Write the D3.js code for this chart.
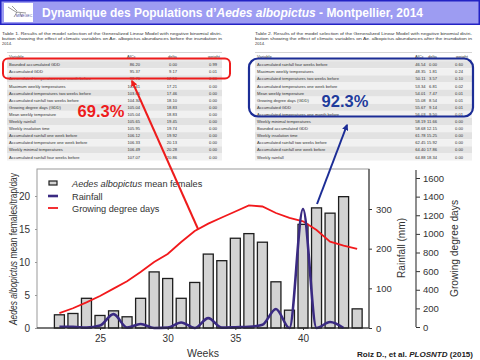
<!DOCTYPE html>
<html>
<head>
<meta charset="utf-8">
<script src="https://cdn.jsdelivr.net/npm/d3@7"></script>
<style>
  html, body { margin: 0; padding: 0; background: #fff; }
  svg { display: block; font-family: "Liberation Sans", Arial, sans-serif; }
</style>
</head>
<body>
<svg id="slide" width="480" height="360"></svg>
<script>
// weekly data
const weeks = [22, 23, 24, 25, 26, 27, 28, 29, 30, 31, 32, 33, 34, 35, 36, 37, 38, 39, 40, 41, 42, 43, 44];
const females = [2.0, 2.2, 4.5, 1.9, 2.6, 1.7, 4.5, 8.5, 7.5, 4.5, 6.9, 11.2, 10.2, 13.6, 14.3, 13.0, 7.0, 2.7, 15.7, 18.2, 17.4, 19.9, 2.9];
const rainWeeks = [22, 23, 24, 25, 26, 27, 28, 29, 30, 31, 32, 33, 34, 35, 36, 37, 38, 39, 40, 41, 42, 43];
const rainfall = [3, 3, 1, 6, 35, 1, 10, 0, 1, 14, 0, 25, 1, 2, 3, 8, 48, 0, 300, 0, 15, 0];
const gdd = [150, 201, 265, 333, 412, 491, 590, 698, 784, 913, 1031, 1110, 1176, 1240, 1306, 1294, 1224, 1171, 1135, 1042, 916, 875, 838];

const weekTicks = [25, 30, 35, 40];
const femaleTicks = [0, 5, 10, 15, 20];
const rainTicks = [0, 100, 200, 300];
const gddTicks = [0, 200, 400, 600, 800, 1000, 1200, 1400, 1600];

const tableHeader = ["Variable", "AICc", "delta", "weight"];
const table1Caption = [
  "Table 1.  Results of the model selection of the Generalized Linear Model with negative binomial distri-",
  "bution showing the effect of climatic variables on Ae. albopictus abundances before the inundation in",
  "2014."
];
const table1Rows = [
  ["Bounded accumulated GDD", "86.20", "0.00", "0.99"],
  ["Accumulated GDD", "95.37", "9.17", "0.01"],
  ["Accumulated temperatures one month before", "98.76", "12.56", "0.00"],
  ["Maximum weekly temperatures", "103.41", "17.21", "0.00"],
  ["Accumulated temperatures two weeks before", "103.66", "17.46", "0.00"],
  ["Accumulated rainfall two weeks before", "104.30", "18.10", "0.00"],
  ["Growing degree days (GDD)", "105.04", "18.83", "0.00"],
  ["Mean weekly temperature", "105.04", "18.83", "0.00"],
  ["Weekly rainfall", "105.65", "19.45", "0.00"],
  ["Weekly insolation time", "105.95", "19.74", "0.00"],
  ["Accumulated rainfall one week before", "106.12", "19.92", "0.00"],
  ["Accumulated temperature one week before", "106.33", "20.13", "0.00"],
  ["Weekly minimal temperatures", "106.49", "20.28", "0.00"],
  ["Accumulated rainfall four weeks before", "107.07", "20.86", "0.00"]
];
const table2Caption = [
  "Table 2.  Results of the model selection of the Generalized Linear Model with negative binomial distri-",
  "bution showing the effect of climatic variables on Ae. albopictus abundances after the inundation in",
  "2014."
];
const table2Rows = [
  ["Accumulated rainfall four weeks before", "46.54", "0.00", "0.60"],
  ["Maximum weekly temperatures", "48.35", "1.81", "0.24"],
  ["Accumulated temperatures two weeks before", "50.11", "3.57", "0.10"],
  ["Accumulated temperatures one week before", "53.34", "6.81", "0.02"],
  ["Mean weekly temperature", "54.01", "7.47", "0.01"],
  ["Growing degree days (GDD)", "55.08", "8.54", "0.01"],
  ["Accumulated GDD", "55.67", "9.14", "0.01"],
  ["Accumulated temperatures one month before", "56.03", "9.50", "0.01"],
  ["Weekly minimal temperatures", "58.19", "11.66", "0.00"],
  ["Bounded accumulated GDD", "58.68", "12.15", "0.00"],
  ["Weekly insolation time", "61.78", "15.25", "0.00"],
  ["Accumulated rainfall two weeks before", "62.45", "15.92", "0.00"],
  ["Accumulated rainfall one week before", "64.40", "17.86", "0.00"],
  ["Weekly rainfall", "64.88", "18.34", "0.00"]
];

const svg = d3.select("#slide");

// ---- title bar ----
svg.append("rect").attr("x", 0.75).attr("y", 0.75).attr("width", 478.5).attr("height", 23.5)
  .attr("fill", "#9d9cf2").attr("stroke", "#2323c4").attr("stroke-width", 1.5);
const logo = svg.append("g");
logo.append("rect").attr("x", 4).attr("y", 3).attr("width", 29).attr("height", 19).attr("fill", "#fff");
logo.append("path").attr("d", "M8,7 L16,12 L26,13 M12,6 L17,11 M17,12 L14,17 M20,13 L22,17")
  .attr("fill", "none").attr("stroke", "#555").attr("stroke-width", 0.6);
logo.append("text").attr("x", 24).attr("y", 17).attr("text-anchor", "middle")
  .attr("font-size", 3.6).attr("fill", "#4a4aa0").text("MIVEGEC");
const title = svg.append("text").attr("x", 42).attr("y", 17)
  .attr("font-size", 12).attr("font-weight", "bold").attr("fill", "#fff")
  .attr("textLength", 381).attr("lengthAdjust", "spacingAndGlyphs");
title.append("tspan").text("Dynamique des Populations d\u2019");
title.append("tspan").attr("font-style", "italic").text("Aedes albopictus");
title.append("tspan").text(" - Montpellier, 2014");

// ---- result tables ----
function drawTable(x0, x1, cols, caption, rows) {
  const g = svg.append("g").attr("font-size", 4.1).attr("fill", "#333");
  caption.forEach((line, i) => {
    const t = g.append("text").attr("x", cols.cap).attr("y", 34.5 + i * 5).text(line);
    if (i < 2) t.attr("textLength", x1 - cols.cap).attr("lengthAdjust", "spacingAndGlyphs");
  });
  g.append("line").attr("x1", x0).attr("x2", x1).attr("y1", 52.5).attr("y2", 52.5).attr("stroke", "#aaa").attr("stroke-width", 0.5);
  g.append("line").attr("x1", x0).attr("x2", x1).attr("y1", 60).attr("y2", 60).attr("stroke", "#aaa").attr("stroke-width", 0.5);
  g.append("text").attr("x", cols.name).attr("y", 58).text(tableHeader[0]);
  g.append("text").attr("x", cols.aicHead).attr("y", 58).text(tableHeader[1]);
  g.append("text").attr("x", cols.deltaHead).attr("y", 58).text(tableHeader[2]);
  g.append("text").attr("x", cols.weightHead).attr("y", 58).text(tableHeader[3]);
  const rowY = d3.scaleLinear().domain([0, rows.length - 1]).range([64.7, 157]);
  rows.forEach((r, i) => {
    const y = rowY(i);
    g.append("rect").attr("x", x0).attr("y", y - 3.55).attr("width", x1 - x0).attr("height", 7.1)
      .attr("fill", i % 2 ? "#f1f1f1" : "#e2e2e2");
    g.append("text").attr("x", cols.name).attr("y", y + 1.5).text(r[0]);
    g.append("text").attr("x", cols.aic).attr("y", y + 1.5).attr("text-anchor", "end").text(r[1]);
    g.append("text").attr("x", cols.delta).attr("y", y + 1.5).attr("text-anchor", "end").text(r[2]);
    g.append("text").attr("x", cols.weight).attr("y", y + 1.5).attr("text-anchor", "end").text(r[3]);
  });
}
drawTable(7, 222, { cap: 2, name: 9, aic: 140, aicHead: 127, delta: 177, deltaHead: 168, weight: 217, weightHead: 208 },
  table1Caption, table1Rows);
drawTable(255, 472, { cap: 255, name: 257, aic: 425.5, aicHead: 415, delta: 437, deltaHead: 428, weight: 463, weightHead: 456 },
  table2Caption, table2Rows);

// ---- chart ----
const x = d3.scaleLinear().domain([25, 40]).range([100, 303]);
const yF = d3.scaleLinear().domain([0, 20]).range([328, 196]);
const yR = d3.scaleLinear().domain([0, 300]).range([328, 209]);
const yG = d3.scaleLinear().domain([0, 1600]).range([327, 178]);

const chart = svg.append("g").attr("font-size", 10).attr("fill", "#333");
chart.append("rect").attr("x", 37).attr("y", 169).attr("width", 332).attr("height", 159)
  .attr("fill", "#fff").attr("stroke", "#9a9a9a").attr("stroke-width", 1);

chart.selectAll(".bar").data(weeks).join("rect")
  .attr("class", "bar")
  .attr("x", d => x(d) - 5)
  .attr("y", (d, i) => yF(females[i]))
  .attr("width", 10)
  .attr("height", (d, i) => yF(0) - yF(females[i]))
  .attr("fill", "#d3d3d3").attr("stroke", "#1e1e1e").attr("stroke-width", 1.3);

const gddLine = d3.line().x(d => x(d[0])).y(d => yG(d[1]));
chart.append("path").datum(weeks.map((w, i) => [w, gdd[i]]))
  .attr("d", gddLine).attr("fill", "none").attr("stroke", "#f2191c").attr("stroke-width", 1.8);

const rainLine = d3.line().curve(d3.curveMonotoneX).x(d => x(d[0])).y(d => yR(d[1]));
chart.append("path").datum(rainWeeks.map((w, i) => [w, rainfall[i]]))
  .attr("d", rainLine).attr("fill", "none").attr("stroke", "#3a2a82").attr("stroke-width", 2.6);

// axes
function styleAxis(g, size, family) {
  g.select(".domain").remove();
  g.selectAll("line").attr("stroke", "#333");
  g.selectAll("text").attr("fill", "#333").attr("font-size", size)
    .attr("font-family", family || "Liberation Sans, Arial, sans-serif");
}
const narrow = "Liberation Sans Narrow, Arial Narrow, Liberation Sans, sans-serif";
chart.append("g").attr("transform", "translate(37,0)")
  .call(d3.axisLeft(yF).tickValues(femaleTicks).tickSize(2).tickPadding(5)).call(styleAxis, 10)
  .selectAll("line").attr("stroke", "#999");
chart.append("g").attr("transform", "translate(0,328)")
  .call(d3.axisBottom(x).tickValues(weekTicks).tickSize(2).tickPadding(5)).call(styleAxis, 10);
chart.append("line").attr("x1", 37).attr("x2", 369).attr("y1", 328).attr("y2", 328).attr("stroke", "#222").attr("stroke-width", 1.2);

chart.append("g").attr("transform", "translate(369,0)")
  .call(d3.axisRight(yR).tickValues(rainTicks).tickSize(3).tickPadding(4)).call(styleAxis, 9.5, narrow);
chart.append("line").attr("x1", 369).attr("x2", 369).attr("y1", 169).attr("y2", 328).attr("stroke", "#444").attr("stroke-width", 1.2);

chart.append("g").attr("transform", "translate(416,0)")
  .call(d3.axisRight(yG).tickValues(gddTicks).tickFormat(d3.format("d")).tickSize(4).tickPadding(3))
  .call(styleAxis, 9.5, narrow);
chart.append("line").attr("x1", 416).attr("x2", 416).attr("y1", 170).attr("y2", 327).attr("stroke", "#444").attr("stroke-width", 1.2);

// axis titles
const yTitle = chart.append("text").attr("transform", "translate(17,249) rotate(-90)")
  .attr("text-anchor", "middle").attr("font-size", 10).attr("textLength", 152).attr("lengthAdjust", "spacingAndGlyphs");
yTitle.append("tspan").attr("font-style", "italic").text("Aedes albopictus");
yTitle.append("tspan").text(" mean females/trap/day");
chart.append("text").attr("transform", "translate(404.5,248) rotate(-90)").attr("text-anchor", "middle")
  .attr("font-size", 10.5).attr("textLength", 60).attr("lengthAdjust", "spacingAndGlyphs").text("Rainfall (mm)");
chart.append("text").attr("transform", "translate(458,248.5) rotate(-90)").attr("text-anchor", "middle")
  .attr("font-size", 10.5).attr("textLength", 97).attr("lengthAdjust", "spacingAndGlyphs").text("Growing degree days");
chart.append("text").attr("x", 203).attr("y", 357).attr("text-anchor", "middle").attr("font-size", 10.5).text("Weeks");

// legend
const legend = chart.append("g").attr("font-size", 9.2);
legend.append("rect").attr("x", 49).attr("y", 181).attr("width", 8).attr("height", 4)
  .attr("fill", "#d3d3d3").attr("stroke", "#1e1e1e").attr("stroke-width", 1.2);
legend.append("line").attr("x1", 48).attr("x2", 58).attr("y1", 196).attr("y2", 196).attr("stroke", "#3a2a82").attr("stroke-width", 2.6);
legend.append("line").attr("x1", 48).attr("x2", 58).attr("y1", 208).attr("y2", 208).attr("stroke", "#f2191c").attr("stroke-width", 1.8);
const l1 = legend.append("text").attr("x", 72).attr("y", 186.5);
l1.append("tspan").attr("font-style", "italic").text("Aedes albopictus");
l1.append("tspan").text(" mean females");
legend.append("text").attr("x", 72).attr("y", 199.5).text("Rainfall");
legend.append("text").attr("x", 72).attr("y", 211.5).text("Growing degree days");

// ---- highlights and arrows ----
const defs = svg.append("defs");
[["arrRed", "#ee1c1c"], ["arrBlue", "#1c2d96"]].forEach(([id, c]) => {
  defs.append("marker").attr("id", id).attr("viewBox", "0 0 10 10").attr("refX", 8).attr("refY", 5)
    .attr("markerWidth", 3.2).attr("markerHeight", 3.2).attr("orient", "auto")
    .append("path").attr("d", "M0,0 L10,5 L0,10 z").attr("fill", c);
});
svg.append("rect").attr("x", 3).attr("y", 58.5).attr("width", 227).attr("height", 20).attr("rx", 5)
  .attr("fill", "none").attr("stroke", "#ee1c1c").attr("stroke-width", 2);
svg.append("rect").attr("x", 249).attr("y", 58.5).attr("width", 224).attr("height", 58).attr("rx", 9)
  .attr("fill", "none").attr("stroke", "#1c2d96").attr("stroke-width", 2.2);
svg.append("line").attr("x1", 198).attr("y1", 229).attr("x2", 132).attr("y2", 81)
  .attr("stroke", "#ee1c1c").attr("stroke-width", 2).attr("marker-end", "url(#arrRed)");
svg.append("line").attr("x1", 317).attr("y1", 204).attr("x2", 347).attr("y2", 125)
  .attr("stroke", "#1c2d96").attr("stroke-width", 2).attr("marker-end", "url(#arrBlue)");
svg.append("text").attr("x", 101).attr("y", 117).attr("text-anchor", "middle")
  .attr("font-size", 16.5).attr("font-weight", "bold").attr("fill", "#ee1c1c").text("69.3%");
svg.append("text").attr("x", 345).attr("y", 107).attr("text-anchor", "middle")
  .attr("font-size", 16.5).attr("font-weight", "bold").attr("fill", "#1f3c9c").text("92.3%");

// citation
const cite = svg.append("text").attr("x", 357).attr("y", 357).attr("font-size", 8).attr("font-weight", "bold")
  .attr("fill", "#222").attr("textLength", 116).attr("lengthAdjust", "spacingAndGlyphs");
cite.append("tspan").text("Roiz D., et al. ");
cite.append("tspan").attr("font-style", "italic").text("PLOSNTD");
cite.append("tspan").text(" (2015)");
</script>
</body>
</html>
